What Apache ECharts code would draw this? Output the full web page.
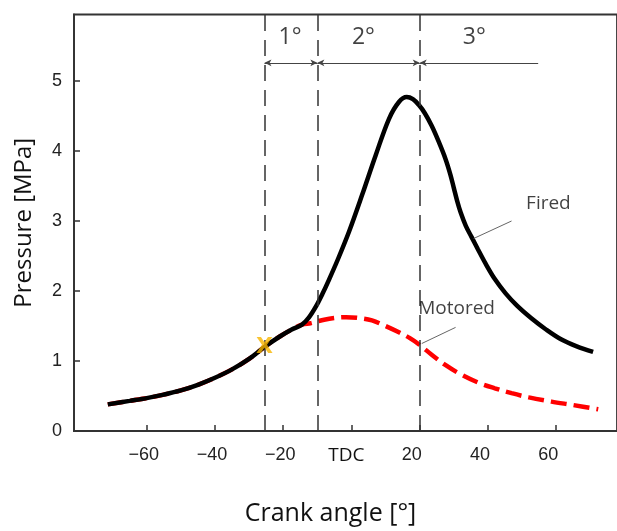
<!DOCTYPE html>
<html><head><meta charset="utf-8">
<script src="https://cdn.jsdelivr.net/npm/echarts@6/dist/echarts.min.js"></script>
<style>html,body{margin:0;padding:0;background:#fff}#c{width:617px;height:531px}</style>
</head><body><div id="c"></div>
<script>
// ---- data ----
const crankFired = [-71.4,-65,-60,-55,-50,-45,-40,-35,-30,-25.5,-21,-17.5,-14.5,-12.5,-10.4,-8.5,-6.6,-4,-0.7,3.1,7.1,11,13.9,16.2,18,19.7,21.5,23.5,25.5,27.6,29,30,31,32,33.5,35.2,37,39.3,42,45.1,48.5,52.7,57,61.4,66,70.8];
const pressureFired = [0.38,0.43,0.47,0.52,0.58,0.66,0.76,0.88,1.03,1.2,1.35,1.45,1.52,1.62,1.78,1.96,2.16,2.45,2.85,3.37,3.94,4.46,4.70,4.77,4.74,4.66,4.54,4.36,4.14,3.88,3.66,3.47,3.28,3.12,2.93,2.77,2.6,2.39,2.17,1.97,1.79,1.61,1.45,1.31,1.21,1.13];
const crankMotored = [-71.4,-65,-60,-55,-50,-45,-40,-35,-30,-25.5,-21,-17.5,-14.5,-12,-10.4,-8,-4,-1.6,2,6,10,13.9,17,19.7,23.5,27.6,32,37.2,42,46.9,52,58.6,65,72.3];
const pressureMotored = [0.38,0.43,0.47,0.52,0.58,0.66,0.76,0.88,1.03,1.2,1.35,1.45,1.52,1.54,1.56,1.59,1.62,1.625,1.615,1.58,1.5,1.41,1.33,1.24,1.09,0.94,0.81,0.69,0.61,0.54,0.48,0.42,0.37,0.31];
const xTickValues = [-60,-40,-20,0,20,40,60];
const xTickLabels = ['\u221260','\u221240','\u221220','TDC','20','40','60'];
const yTickValues = [0,1,2,3,4,5];
const phaseBoundaries = [-25.5,-10,20];
const phaseArrowEnd = 54.7;
const phaseArrowLevel = 5.26;
const phaseNames = ['1°','2°','3°'];
const phaseLabelX = [-18,3.5,36];
const phaseLabelY = 5.62;
const igniteCrank = -25.5, ignitePressure = 1.2;
const seriesNames = ['Fired','Motored'];
const seriesLabelPos = [[57.7,3.25],[30.8,1.75]];
const leaderFired = [[35.8,2.75],[46.9,3.0]];
const leaderMotored = [[20.6,1.25],[30.5,1.48]];

const pair = (xs, ys) => xs.map((x,i)=>[x, ys[i]]);
const axisColor = '#333';
const chart = echarts.init(document.getElementById('c'), null, {renderer:'canvas'});

const arrowSegs = [];
const bounds = phaseBoundaries.concat([phaseArrowEnd]);
for (let i=0;i<bounds.length-1;i++){
  const last = i===bounds.length-2;
  arrowSegs.push([
    {coord:[bounds[i],phaseArrowLevel], symbol:'arrow', symbolSize:[5,7]},
    {coord:[bounds[i+1],phaseArrowLevel], symbol: last?'none':'arrow', symbolSize:[5,7]}
  ]);
}

chart.setOption({
  animation:false,
  backgroundColor:'#fff',
  grid:{left:74, right:-2, top:14.5, bottom:94, show:true, borderColor:axisColor, borderWidth:1.8},
  xAxis:{
    type:'value', min:-81.3, max:77.8,
    name:'Crank angle [°]', nameLocation:'middle', nameGap:70,
    nameTextStyle:{fontFamily:'Open Sans', fontSize:25, color:'#111', padding:[0,30,0,0]},
    axisLine:{show:true, onZero:false, lineStyle:{color:axisColor, width:1.8}},
    axisTick:{show:true, inside:true, length:6, customValues:xTickValues, lineStyle:{color:axisColor, width:1.5}},
    axisLabel:{customValues:xTickValues, margin:15, fontFamily:'Liberation Sans', fontSize:18, color:'#222',
      formatter:v=>{const i=xTickValues.indexOf(v); return i===3?'{t|TDC}':(v<0?'{n|'+xTickLabels[i]+'}':'{p|'+xTickLabels[i]+'}');},
      rich:{
        t:{fontFamily:'Open Sans', fontSize:19, color:'#111', padding:[0,10,0,0]},
        n:{fontFamily:'Liberation Sans', fontSize:18, color:'#222', padding:[0,6,0,0]},
        p:{fontFamily:'Liberation Sans', fontSize:18, color:'#222', padding:[0,16,0,0]}
      }},
    splitLine:{show:false}
  },
  yAxis:{
    type:'value', min:0, max:5.95,
    name:'Pressure [MPa]', nameLocation:'middle', nameGap:38,
    nameTextStyle:{fontFamily:'Open Sans', fontSize:24, color:'#111'},
    axisLine:{show:true, onZero:false, lineStyle:{color:axisColor, width:1.8}},
    axisTick:{show:true, inside:true, length:6, customValues:yTickValues, lineStyle:{color:axisColor, width:1.5}},
    axisLabel:{customValues:yTickValues, margin:12, fontFamily:'Liberation Sans', fontSize:18, color:'#222', padding:[6,0,0,0]},
    splitLine:{show:false}
  },
  series:[
    {type:'line', name:'Motored', data:pair(crankMotored,pressureMotored), smooth:0.35, symbol:'none',
     lineStyle:{color:'#ff0000', width:4.5, type:[16,7]}, z:3},
    {type:'line', name:'Fired', data:pair(crankFired,pressureFired), smooth:0.35, symbol:'none',
     lineStyle:{color:'#000', width:4.5}, z:4},
    {type:'line', data:[], symbol:'none', silent:true, z:2,
     markLine:{silent:true, symbol:'none', label:{show:false},
       lineStyle:{color:axisColor, width:1.5, type:[16,9]},
       data:phaseBoundaries.map(v=>({xAxis:v}))}},
    {type:'line', data:[], symbol:'none', silent:true, z:2,
     markLine:{silent:true, label:{show:false},
       lineStyle:{color:'#444', width:1.2, type:'solid'},
       data:arrowSegs}},
    {type:'line', data:leaderFired, symbol:'none', silent:true, lineStyle:{color:'#666', width:1}, z:5},
    {type:'line', data:leaderMotored, symbol:'none', silent:true, lineStyle:{color:'#666', width:1}, z:5},
    {type:'scatter', symbolSize:0, silent:true, z:6,
     data:phaseNames.map((n,i)=>({name:n, value:[phaseLabelX[i],phaseLabelY]})),
     label:{show:true, position:'inside', formatter:'{b}', fontFamily:'Open Sans', fontSize:23, color:'#111'}},
    {type:'scatter', symbolSize:0, silent:true, z:6,
     data:seriesNames.map((n,i)=>({name:n, value:seriesLabelPos[i]})),
     label:{show:true, position:'inside', formatter:'{b}', fontFamily:'Open Sans', fontSize:19, color:'#111'}},
    {type:'scatter', symbolSize:0, silent:true, z:7,
     data:[{name:'X', value:[igniteCrank,ignitePressure]}],
     label:{show:true, position:'inside', formatter:'{b}', fontFamily:'DejaVu Sans', fontWeight:'bold', fontSize:22, color:'#f7b500'}}
  ]
});
</script></body></html>
